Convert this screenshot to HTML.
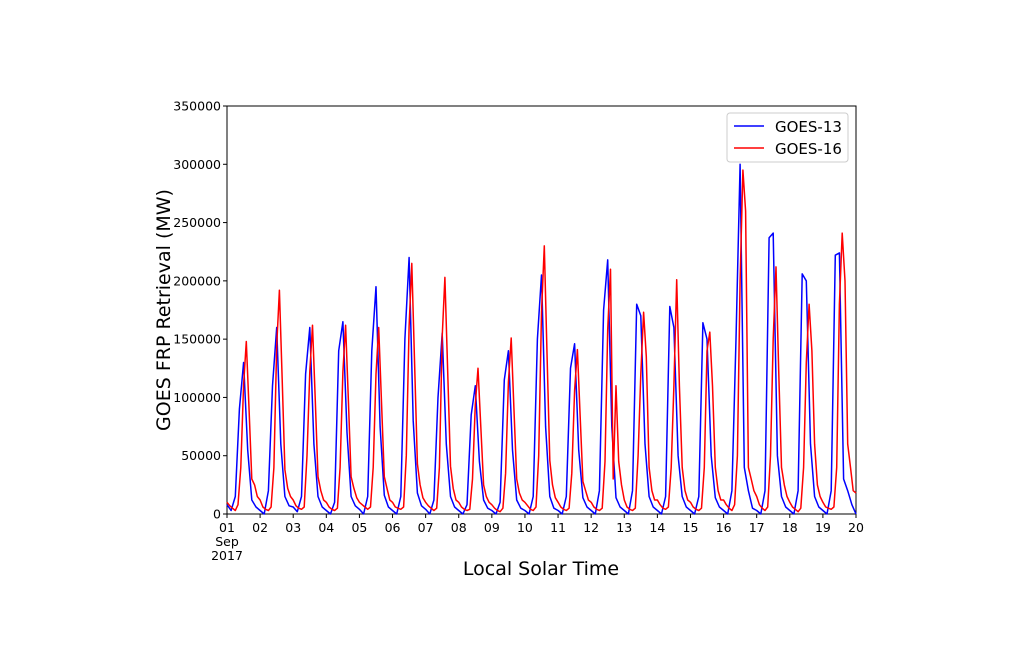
<!DOCTYPE html>
<html><head><meta charset="utf-8"><style>
body{margin:0;background:#fff;font-family:"Liberation Sans","DejaVu Sans",sans-serif}
svg text{font-family:"DejaVu Sans","Liberation Sans",sans-serif}
</style></head><body>
<svg id="chart" width="1024" height="662" xmlns="http://www.w3.org/2000/svg"></svg>
<script>
const dayLabels=["01","02","03","04","05","06","07","08","09","10","11","12","13","14","15","16","17","18","19","20"];
const yTicks=[0,50000,100000,150000,200000,250000,300000,350000];
// GOES-13: 3-hourly samples per day (h0,h3,...,h21)
const goes13=[
[8000,3000,15000,90000,130000,55000,12000,6000],
[3000,0,20000,110000,160000,60000,15000,7000],
[6000,2000,15000,120000,160000,60000,15000,6000],
[3000,0,10000,140000,165000,70000,15000,7000],
[4000,0,15000,140000,195000,75000,16000,6000],
[3000,0,15000,150000,220000,80000,18000,7000],
[4000,0,12000,100000,155000,60000,15000,6000],
[3000,0,8000,85000,110000,45000,12000,5000],
[3000,0,10000,115000,140000,55000,12000,5000],
[3000,0,15000,150000,205000,75000,15000,5000],
[3000,0,15000,125000,146000,55000,14000,6000],
[3000,0,20000,175000,218000,75000,14000,6000],
[3000,0,20000,180000,170000,60000,15000,6000],
[3000,0,15000,178000,160000,50000,15000,6000],
[3000,0,15000,164000,150000,50000,14000,6000],
[3000,0,20000,150000,300000,40000,20000,5000],
[3000,0,20000,237000,241000,50000,15000,6000],
[3000,0,20000,206000,200000,60000,15000,6000],
[3000,0,20000,222000,224000,30000,20000,8000],
[0]];
// GOES-16: 2-hourly samples per day (h0,h2,...,h22)
const goes16=[
[10000,7000,5000,3000,8000,40000,111000,148000,89000,30000,25000,15000],
[12000,6000,4000,3000,6000,40000,144000,192000,115000,38000,22000,15000],
[12000,7000,5000,4000,6000,50000,122000,162000,97000,32000,20000,12000],
[10000,6000,4000,3000,5000,40000,122000,162000,97000,32000,22000,14000],
[10000,8000,6000,4000,6000,40000,120000,160000,96000,32000,22000,12000],
[10000,6000,5000,4000,6000,50000,161000,215000,129000,43000,25000,14000],
[10000,7000,5000,3000,5000,40000,152000,203000,122000,41000,22000,12000],
[10000,6000,4000,3000,4000,30000,94000,125000,75000,25000,15000,10000],
[8000,5000,3000,2000,5000,35000,113000,151000,91000,30000,18000,12000],
[10000,7000,4000,3000,6000,50000,173000,230000,138000,46000,25000,14000],
[10000,6000,4000,3000,5000,35000,106000,141000,85000,28000,20000,12000],
[10000,6000,4000,3000,5000,45000,158000,210000,30000,110000,45000,25000],
[12000,6000,4000,3000,5000,50000,120000,173000,135000,40000,20000,12000],
[12000,8000,5000,4000,6000,40000,110000,201000,110000,40000,20000,12000],
[10000,6000,4000,3000,5000,40000,140000,156000,110000,40000,20000,12000],
[12000,8000,5000,3000,8000,50000,200000,295000,260000,40000,30000,20000],
[15000,8000,5000,3000,6000,50000,150000,212000,120000,40000,25000,15000],
[10000,6000,4000,2000,5000,40000,130000,180000,140000,60000,25000,15000],
[10000,6000,5000,4000,6000,40000,180000,241000,200000,60000,40000,20000],
[18000]];
const NS="http://www.w3.org/2000/svg";
const svg=document.getElementById('chart');
const X0=227,X1=856,Y0=514,Y1=106;
const xs=d=>X0+(X1-X0)*d/19;
const ys=v=>Y0-(Y0-Y1)*v/350000;
function mk(t,a,p){const e=document.createElementNS(NS,t);for(const k in a)e.setAttribute(k,a[k]);(p||svg).appendChild(e);return e;}
function txt(s,a){const e=mk('text',a);e.textContent=s;return e;}
// axes frame
const frame=mk('rect',{x:X0,y:Y1,width:X1-X0,height:Y0-Y1,fill:'none',stroke:'#000','stroke-width':1});


yTicks.forEach(v=>{
 const l=mk('line',{x1:X0-4,x2:X0,y1:ys(v),y2:ys(v),stroke:'#000'});
 
 
 const t=txt(String(v),{x:X0-6,y:ys(v)+4.5,'text-anchor':'end','font-size':12.5});
 
 
});
dayLabels.forEach((s,i)=>{
 const l=mk('line',{x1:xs(i),x2:xs(i),y1:Y0,y2:Y0+4,stroke:'#000'});
 
 
 const t=txt(s,{x:xs(i),y:Y0+18,'text-anchor':'middle','font-size':12.5});
 
 
});
const m1=txt('Sep',{x:xs(0),y:Y0+32,'text-anchor':'middle','font-size':12.5});


const m2=txt('2017',{x:xs(0),y:Y0+46,'text-anchor':'middle','font-size':12.5});


const xt=txt('Local Solar Time',{x:541,y:575,'text-anchor':'middle','font-size':19});


const yt=txt('GOES FRP Retrieval (MW)',{x:0,y:0,'text-anchor':'middle','font-size':19,transform:'translate(170,310) rotate(-90)'});


function series(data,color,name){
 const pts=[];
 data.forEach((day,d)=>{const n=day.length>1?day.length:1;day.forEach((v,k)=>{pts.push(xs(d+k/(day.length>1?n:1)).toFixed(1)+','+ys(v).toFixed(1));});});
 const p=mk('polyline',{points:pts.join(' '),fill:'none',stroke:color,'stroke-width':1.5,'stroke-linejoin':'round'});
 
 
}
series(goes13,'#0000ff','goes-13-line');
series(goes16,'#ff0000','goes-16-line');
// legend
const lg=mk('g',{});


mk('rect',{x:727,y:113,width:121,height:49,rx:3,fill:'#fff',stroke:'#ccc'},lg);
mk('line',{x1:734,x2:764,y1:126,y2:126,stroke:'#0000ff','stroke-width':1.5},lg);
mk('line',{x1:734,x2:764,y1:148,y2:148,stroke:'#ff0000','stroke-width':1.5},lg);
const l1=txt('GOES-13',{x:775,y:132,'font-size':15});


lg.appendChild(l1);
const l2=txt('GOES-16',{x:775,y:154,'font-size':15});


lg.appendChild(l2);
</script>
</body></html>
